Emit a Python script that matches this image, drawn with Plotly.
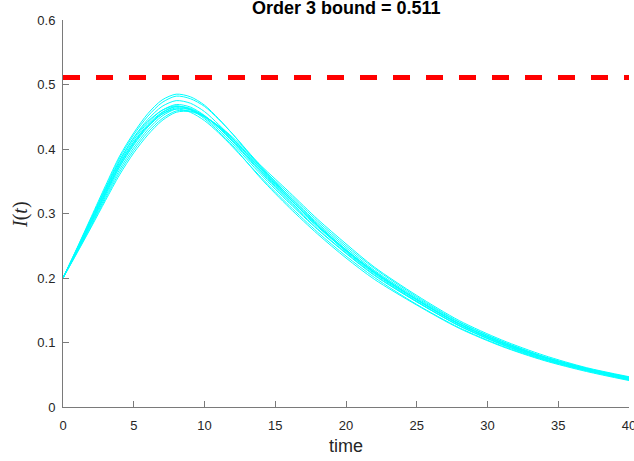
import plotly.graph_objects as go

t_pts = [0, 1, 2, 3, 4, 5, 6, 7, 8, 9, 10, 11, 12, 14, 16, 18, 20, 22, 25, 28, 31, 34, 37, 40]

curve_01 = [.200, .247, .295, .343, .389, .425, .455, .476, .485, .481, .468, .447, .423, .371, .324, .281, .241, .207, .164, .126, .097, .074, .057, .042]
curve_02 = [.200, .246, .293, .340, .386, .422, .451, .472, .482, .478, .466, .446, .423, .373, .326, .283, .244, .210, .166, .128, .099, .076, .058, .044]
curve_03 = [.200, .245, .291, .337, .382, .418, .446, .466, .475, .471, .458, .438, .416, .368, .323, .281, .243, .210, .167, .129, .100, .077, .059, .045]
curve_04 = [.200, .244, .289, .335, .379, .414, .441, .460, .469, .465, .452, .433, .412, .365, .320, .279, .242, .208, .166, .129, .100, .077, .059, .045]
curve_05 = [.200, .243, .287, .332, .376, .411, .438, .457, .466, .462, .449, .430, .408, .360, .316, .275, .238, .204, .163, .126, .098, .075, .057, .043]
curve_06 = [.200, .242, .285, .329, .372, .406, .434, .454, .464, .461, .451, .434, .413, .366, .323, .281, .244, .209, .167, .129, .100, .077, .059, .045]
curve_07 = [.200, .241, .283, .326, .368, .402, .430, .451, .462, .461, .451, .435, .415, .369, .327, .285, .247, .212, .169, .131, .102, .078, .060, .046]
curve_08 = [.200, .240, .281, .323, .364, .398, .426, .447, .459, .459, .450, .435, .416, .371, .330, .288, .250, .215, .171, .132, .102, .078, .060, .046]
curve_09 = [.200, .244, .288, .333, .376, .410, .436, .454, .462, .457, .444, .425, .403, .356, .312, .271, .234, .201, .159, .123, .095, .073, .056, .042]
curve_10 = [.200, .239, .279, .320, .360, .394, .422, .444, .457, .458, .450, .436, .418, .374, .333, .291, .253, .217, .173, .134, .104, .080, .061, .047]
curve_11 = [.200, .243, .286, .330, .373, .408, .436, .456, .466, .463, .451, .433, .411, .363, .318, .276, .239, .205, .163, .126, .097, .074, .057, .043]
curve_12 = [.200, .246, .292, .338, .382, .417, .443, .460, .467, .461, .447, .427, .405, .354, .309, .268, .231, .198, .158, .122, .094, .072, .055, .041]

curves = [curve_01, curve_02, curve_03, curve_04, curve_05, curve_06,
          curve_07, curve_08, curve_09, curve_10, curve_11, curve_12]

bound_value = 0.511
x_range = [0, 40]
y_range = [0, 0.6]
x_ticks = [0, 5, 10, 15, 20, 25, 30, 35, 40]
y_ticks = [0, 0.1, 0.2, 0.3, 0.4, 0.5, 0.6]
y_tick_text = ["0", "0.1", "0.2", "0.3", "0.4", "0.5", "0.6"]
title_text = "Order 3 bound = 0.511"

fig = go.Figure()
for c in curves:
    fig.add_trace(go.Scatter(
        x=t_pts, y=c, mode="lines",
        line=dict(color="#00FFFF", width=1, shape="spline", smoothing=0.8),
        showlegend=False, hoverinfo="skip"))

fig.add_trace(go.Scatter(
    x=x_range, y=[bound_value, bound_value], mode="lines",
    line=dict(color="#FF0000", width=5, dash="17px,16px"),
    showlegend=False, hoverinfo="skip"))

axis_common = dict(
    showgrid=False, zeroline=False, showline=True, linecolor="#7a7a7a",
    linewidth=1, ticks="inside", ticklen=6, tickcolor="#7a7a7a",
    tickfont=dict(family="Liberation Sans, Arial, sans-serif", size=13, color="#262626"),
    mirror=False, automargin=False, ticklabeloverflow="allow",
)

fig.update_layout(
    width=634, height=461,
    margin=dict(l=63, r=5, t=20, b=54, autoexpand=False),
    paper_bgcolor="white", plot_bgcolor="white",
    xaxis=dict(range=x_range, tickvals=x_ticks, ticklabelstandoff=6, **axis_common),
    yaxis=dict(range=y_range, tickvals=y_ticks, ticktext=y_tick_text, ticklabelstandoff=4, **axis_common),
    annotations=[
        dict(text="<b>" + title_text + "</b>", xref="paper", yref="paper",
             x=0.5, y=(407 - 8) / 387, xanchor="center", yanchor="middle",
             showarrow=False,
             font=dict(family="Liberation Sans, Arial, sans-serif", size=18, color="black")),
        dict(text="time", xref="paper", yref="paper",
             x=0.5, y=(407 - 446) / 387, xanchor="center", yanchor="middle",
             showarrow=False,
             font=dict(family="Liberation Sans, Arial, sans-serif", size=18, color="#262626")),
        dict(text="<i>I</i>(<i>t</i>)", xref="paper", yref="paper",
             x=(20 - 63) / 566, y=(407 - 215) / 387, xanchor="center", yanchor="middle",
             textangle=-90, showarrow=False,
             font=dict(family="Liberation Serif, Times New Roman, serif", size=20, color="#262626")),
    ],
)

fig.write_html("out.html", config={"displayModeBar": False},
               post_script="document.body.style.margin='0px';document.body.style.overflow='hidden';")
